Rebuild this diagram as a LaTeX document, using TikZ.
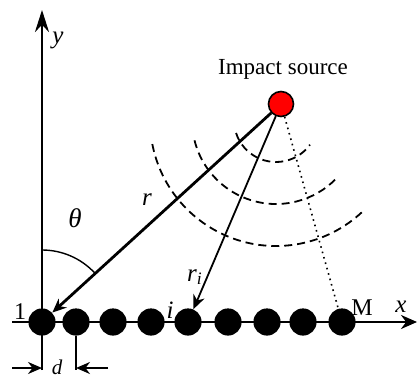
\documentclass[tikz,border=0pt]{standalone}
\usepackage{fontspec}
\setmainfont{Liberation Serif}
\usetikzlibrary{arrows.meta}
\tikzset{
  sensor/.style={circle, fill=black, minimum size=13.6pt, inner sep=0pt},
  source/.style={circle, draw=black, line width=0.8pt, fill=red, minimum size=12.5pt, inner sep=0pt},
  lbl/.style={inner sep=0pt, font=\fontsize{11.5}{13}\selectfont},
  ital/.style={inner sep=0pt, font=\fontsize{12.5}{14}\selectfont\itshape},
  wave/.style={dash pattern=on 4pt off 2.5pt, line width=0.9pt},
}
\begin{document}
\begin{tikzpicture}[x=0.5pt, y=0.5pt, >={Stealth[length=7pt, width=6pt]}]
    \useasboundingbox (0,0) rectangle (418,381);

    % Axis
    \coordinate (ybot) at (42,11);
    \coordinate (ytop) at (42,371);
    \coordinate (xleft) at (12,59);
    \coordinate (xright) at (417,59);
    \draw[-{Stealth[length=11pt, width=7pt]}, line width=1.3pt] (ybot) -- (ytop);
    \draw[-{Stealth[length=8pt, width=7pt]}, line width=1.3pt] (xleft) -- (xright);
    \node[ital] (ylbl) at (58,341) {y};
    \node[ital] (xlbl) at (401,74) {x};

    % Sensors
    \foreach \xx [count=\k] in {42,76,113,151,188,228,267,303,342}
        \node[sensor] (s\k) at (\xx,59) {};
    \node[lbl, font=\fontsize{12}{13}\selectfont] (one) at (20,69) {1};
    \node[ital] (ilbl) at (170,71) {i};
    \node[lbl, font=\fontsize{12}{13}\selectfont] (mlbl) at (362,73) {M};

    % Source
    \node[source] (src) at (281,277) {};
    \node[lbl] (srclbl) at (283,312) {Impact source};

    % Wave fronts
    \coordinate (wc) at (276,261);
    \draw[wave] (wc) ++(198:42) arc[start angle=198, end angle=324, radius=42];
    \draw[wave] (wc) ++(194:84) arc[start angle=194, end angle=316, radius=84];
    \draw[wave] (wc) ++(191:126) arc[start angle=191, end angle=313, radius=126];

    % Paths to sensors
    \draw[->, line width=1.4pt] (src) -- (s1);
    \draw[->, line width=0.9pt] (src) -- (s5);
    \draw[dotted, line width=0.8pt] (src) -- (s9);
    \node[ital] (rlbl) at (147,181) {r};
    \node[ital] (rilbl) at (195,104) {r\textsubscript{i}};

    % Angle
    \draw[line width=0.7pt] (42,131) arc[start angle=90, end angle=43, radius=72];
    \node[ital, font=\fontsize{13.5}{14}\selectfont\itshape] (th) at (75,163) {θ};

    % Spacing
    \coordinate (d1) at (42,13);
    \coordinate (d2) at (76,11);
    \coordinate (d2a) at (76,13);
    \coordinate (al) at (12,13);
    \coordinate (ar) at (108,13);
    \draw[line width=1.1pt] (s2) -- (d2);
    \draw[->, line width=1pt] (al) -- (d1);
    \draw[->, line width=1pt] (ar) -- (d2a);
    \node[ital, font=\fontsize{10.5}{12}\selectfont\itshape] (dlbl) at (57,14) {d};
\end{tikzpicture}
\end{document}
